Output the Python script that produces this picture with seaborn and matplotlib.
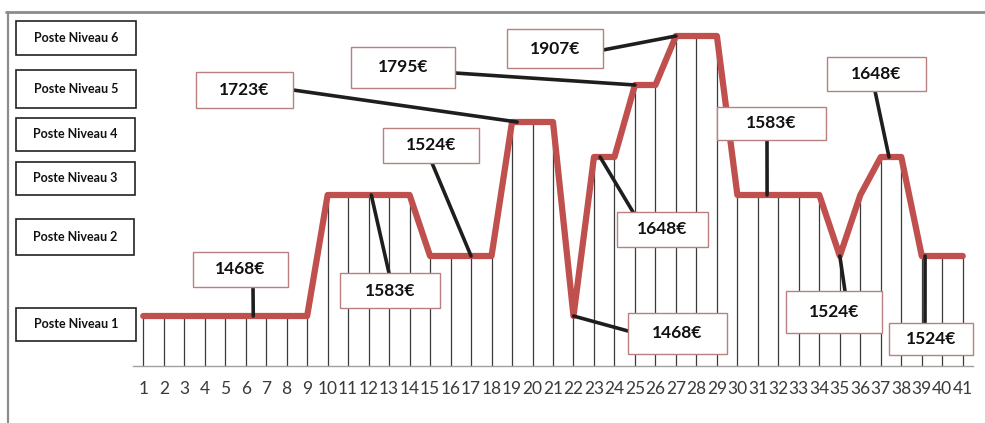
import numpy as np
import pandas as pd
import seaborn as sns
import matplotlib
matplotlib.use("Agg")
import matplotlib.pyplot as plt
from matplotlib.transforms import Affine2D
from matplotlib.patches import Rectangle, ConnectionPatch
from matplotlib.lines import Line2D

# ---------------- data ----------------
POSITIONS = list(range(1, 42))
TICK_LABELS = ["1", "2", "3", "4", "5", "6", "7", "8", "9", "10",
               "11", "12", "13", "14", "15", "16", "17", "18", "19", "20",
               "21", "22", "23", "24", "25", "26", "27", "28", "29", "30",
               "31", "32", "33", "34", "35", "36", "37", "38", "39", "40", "41"]
SALAIRES = [1468, 1468, 1468, 1468, 1468, 1468, 1468, 1468, 1468,
            1583, 1583, 1583, 1583, 1583,
            1524, 1524, 1524, 1524,
            1723, 1723, 1723,
            1468,
            1648, 1648,
            1795, 1795,
            1907, 1907, 1907,
            1583, 1583, 1583, 1583, 1583,
            1524,
            1583,
            1648, 1648,
            1524, 1524, 1524]
NIVEAUX = ["Poste Niveau 1", "Poste Niveau 2", "Poste Niveau 3",
           "Poste Niveau 4", "Poste Niveau 5", "Poste Niveau 6"]
NIVEAU_SALAIRES = [1468, 1524, 1583, 1648, 1723, 1795, 1907]
ANNOT_LABELS = ["1468€", "1583€", "1524€", "1723€", "1795€", "1907€",
                "1648€", "1468€", "1583€", "1648€", "1524€", "1524€"]
ANNOT_X = [6.37, 12.13, 17.0, 19.25, 25.0, 27.0, 23.3, 22.0, 31.45, 37.4, 35.0, 39.16]
ANNOT_VALUES = [1468, 1583, 1524, 1723, 1795, 1907, 1648, 1468, 1583, 1648, 1524, 1524]

df = pd.DataFrame({"position": POSITIONS, "salaire": SALAIRES})

# ---------------- layout / style ----------------
W, H = 985, 423
sns.set_theme(style="white")
plt.rcParams["font.family"] = ["Lato", "DejaVu Sans"]

fig = plt.figure(figsize=(W / 100, H / 100), dpi=100)
fig.patch.set_facecolor("white")
T = Affine2D().scale(1 / W, -1 / H).translate(0, 1) + fig.transFigure  # image pixels

ax_left, ax_right, ax_bottom, ax_top = 133, 973, 366, 16
ax = fig.add_axes([ax_left / W, 1 - ax_bottom / H, (ax_right - ax_left) / W, (ax_bottom - ax_top) / H])
ax.set_facecolor("none")

# vertical scale: heights (px above axis) of each salary level
LEVEL_H = [50, 110, 171, 209, 244, 281, 330]
xs = np.array(NIVEAU_SALAIRES, float)
hs = np.array(LEVEL_H, float)
XS = np.concatenate([[xs[0] - 1000], xs, [xs[-1] + 1000]])
HS = np.concatenate([[hs[0] - 1000 * (hs[1] - hs[0]) / (xs[1] - xs[0])], hs,
                     [hs[-1] + 1000 * (hs[-1] - hs[-2]) / (xs[-1] - xs[-2])]])


def fwd(s):
    return np.interp(s, XS, HS)


def inv(h):
    return np.interp(h, HS, XS)


ax.set_yscale("function", functions=(fwd, inv))
ymin, ymax = float(inv(0)), float(inv(ax_bottom - ax_top))
ax.set_ylim(ymin, ymax)
ax.set_xlim(0.5, 41.5)

# drop lines
ax.vlines(df["position"], ymin, df["salaire"], color="#3a3a3a", lw=0.9, zorder=1)

# main line
sns.lineplot(data=df, x="position", y="salaire", ax=ax, color="#C0504D",
             linewidth=4.5, zorder=2)
ax.lines[-1].set_solid_joinstyle("round")
ax.lines[-1].set_solid_capstyle("round")

# axes styling
ax.set_xlabel("")
ax.set_ylabel("")
ax.set_yticks([])
for s in ["left", "right", "top"]:
    ax.spines[s].set_visible(False)
ax.spines["bottom"].set_color("#a0a0a0")
ax.spines["bottom"].set_linewidth(1.0)
ax.set_xticks(POSITIONS, TICK_LABELS)
ax.set_xticks(np.arange(0.5, 42, 1.0), minor=True)
ax.tick_params(axis="x", which="major", length=0, pad=10.5, labelsize=12.5, labelcolor="#3a3a3a")
ax.tick_params(axis="x", which="minor", length=7, width=0.8, direction="inout", color="#a0a0a0")

# annotation boxes (image pixel rects) and leader start points
BOXES = [(193, 252, 288, 287), (340, 273, 440, 308), (383, 128, 479, 163),
         (196, 72, 293, 108), (351, 47, 455, 88), (507, 29, 603, 68),
         (617, 212, 708, 247), (628, 313, 727, 354), (717, 107, 826, 140),
         (827, 57, 926, 91), (786, 291, 882, 333), (889, 323, 973, 355)]
STARTS = [(253, 287), (389, 273), (432, 163), (293, 90), (455, 73), (603, 50),
          (633, 212), (628, 331), (767, 140), (875, 91), (845, 291), (925, 323)]

for lab, bx, st, xa, va in zip(ANNOT_LABELS, BOXES, STARTS, ANNOT_X, ANNOT_VALUES):
    con = ConnectionPatch(xyA=st, coordsA=T, xyB=(xa, va), coordsB=ax.transData,
                          arrowstyle="-", color="#1e1e1e", lw=2.6,
                          shrinkA=0, shrinkB=0, zorder=5)
    fig.add_artist(con)
    x0, y0, x1, y1 = bx
    fig.add_artist(Rectangle((x0, y0), x1 - x0, y1 - y0, transform=T,
                             facecolor="white", edgecolor="#b98080", lw=1.0, zorder=6))
    fig.text((x0 + x1) / 2, (y0 + y1) / 2, lab, transform=T, ha="center", va="center",
             fontsize=12.5, fontweight="bold", color="#111111", zorder=7)

# level boxes on the left
LEVEL_BOXES = [(16, 308, 136, 341), (16, 219, 134, 255), (16, 162, 135, 195),
               (16, 118, 135, 151), (16, 70, 136, 108), (16, 21, 136, 55)]
for name, bx in zip(NIVEAUX, LEVEL_BOXES):
    x0, y0, x1, y1 = bx
    fig.add_artist(Rectangle((x0, y0), x1 - x0, y1 - y0, transform=T,
                             facecolor="white", edgecolor="#222222", lw=1.2, zorder=6))
    fig.text((x0 + x1) / 2, (y0 + y1) / 2, name, transform=T, ha="center", va="center",
             fontsize=9, fontweight="bold", color="#111111", zorder=7)

# outer frame
fig.add_artist(Line2D([6, W], [12.5, 12.5], transform=T, color="#8c8c8c", lw=2.0))
fig.add_artist(Line2D([7.5, 7.5], [12, H], transform=T, color="#8c8c8c", lw=1.6))

fig.savefig("out.png", dpi=100)
